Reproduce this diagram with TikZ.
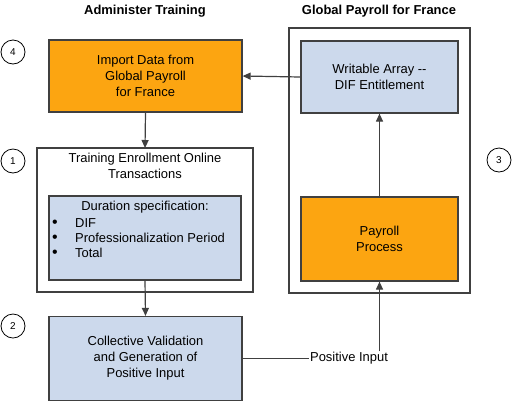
\documentclass[tikz,border=0pt]{standalone}
\usepackage{fontspec}
\setmainfont{Liberation Sans}
\usetikzlibrary{arrows.meta}
\definecolor{boxorange}{RGB}{252,165,17}
\definecolor{boxblue}{RGB}{204,217,236}
\definecolor{edge}{RGB}{64,64,64}
\begin{document}
\begin{tikzpicture}[x=1bp,y=-1bp,
  every node/.style={font=\fontsize{13}{16}\selectfont, text=black},
  titletext/.style={font=\bfseries\fontsize{13}{15}\selectfont},
  obox/.style={draw=edge, line width=1.2bp, fill=boxorange, align=center},
  bbox/.style={draw=edge, line width=1.2bp, fill=boxblue, align=center},
  wbox/.style={draw=edge, line width=1.2bp, fill=white},
  bul/.style={inner sep=0pt, anchor=base, text height=8bp, text depth=0pt, font=\fontsize{16}{17}\selectfont},
  btext/.style={anchor=base west, inner sep=0pt},
  stepnum/.style={circle, draw=black, line width=0.8bp, minimum size=24bp, inner sep=0pt, font=\fontsize{10}{11}\selectfont},
  conn/.style={draw=edge, line width=1.2bp, -{Triangle[length=8bp,width=7bp]}},
  plain/.style={draw=edge, line width=1.2bp}
]
\useasboundingbox (0,0) rectangle (513,402);

% titles
\node[titletext] (t1) at (145,11) {Administer Training};
\node[titletext] (t2) at (379,11) {Global Payroll for France};

% outer boxes
\draw[wbox] (37,148) rectangle (253,292);
\draw[wbox] (289,28) rectangle (470,293);

% import box
\node[obox, minimum width=193bp, minimum height=72bp] (imp) at (145.5,76) {Import Data from\\Global Payroll\\for France};

% enrollment text
\node[align=center] (enr) at (145,166) {Training Enrollment Online\\Transactions};
\coordinate (enrtop) at (145,148);

% duration box
\node[bbox, minimum width=192bp, minimum height=84bp] (dur) at (145,238) {};
\node (durtitle) at (145,207) {Duration specification:};
\node[bul] (d1) at (55,227) {\textbullet};
\node[bul] (d2) at (55,242) {\textbullet};
\node[bul] (d3) at (55,257) {\textbullet};
\node[btext] (b1) at (75,227) {DIF};
\node[btext] (b2) at (75,242) {Professionalization Period};
\node[btext] (b3) at (75,257) {Total};

% collective box
\node[bbox, minimum width=193bp, minimum height=84bp] (col) at (145.5,358.5) {Collective Validation\\and Generation of\\Positive Input};

% writable array
\node[bbox, minimum width=157bp, minimum height=72bp] (wa) at (379.5,77) {Writable Array -{}-\\DIF Entitlement};

% payroll process
\node[obox, minimum width=157bp, minimum height=84bp] (pp) at (379.5,239) {Payroll\\Process};

% positive input label
\node[inner sep=1bp] (pi) at (349,358.5) {Positive Input};

% step circles
\node[stepnum] (s4) at (13,52) {4};
\node[stepnum] (s1) at (13,161) {1};
\node[stepnum] (s2) at (13,326) {2};
\node[stepnum] (s3) at (499,160) {3};

% connectors
\draw[conn] (imp.south) -- (enrtop);
\draw[conn] (dur.south) -- (col.north);
\draw[conn] (wa.west) -- (imp.east);
\draw[conn] (pp.north) -- (wa.south);
\draw[plain] (col.east) -- (pi.west);
\draw[conn] (pi.north -| pp.south) -- (pp.south);
\end{tikzpicture}
\end{document}
